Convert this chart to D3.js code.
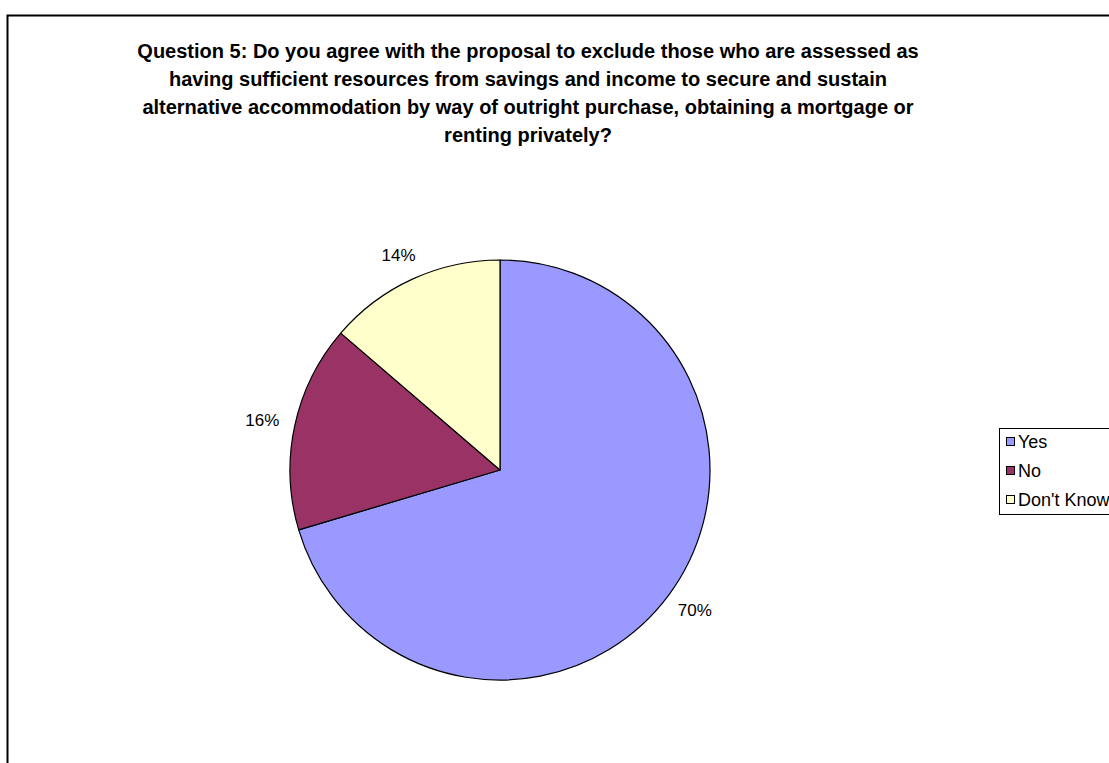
<!DOCTYPE html>
<html>
<head>
<meta charset="utf-8">
<script src="https://cdn.jsdelivr.net/npm/d3@7"></script>
<style>
  html, body { margin: 0; padding: 0; background: #fff; }
  svg { display: block; }
  text { font-family: "Liberation Sans", Arial, sans-serif; }
</style>
</head>
<body>
<svg id="chart" width="1109" height="763"></svg>
<script>
const categories = ["Yes", "No", "Don't Know"];
const values = [70.4, 15.9, 13.7];
const colors = ["#9999FF", "#993366", "#FFFFCC"];
const titleLines = [
  "Question 5: Do you agree with the proposal to exclude those who are assessed as",
  "having sufficient resources from savings and income to secure and sustain",
  "alternative accommodation by way of outright purchase, obtaining a mortgage or",
  "renting privately?"
];

const svg = d3.select("#chart");

// outer border
svg.append("rect")
  .attr("x", 7.5).attr("y", 15.5)
  .attr("width", 1130).attr("height", 800)
  .attr("fill", "#fff").attr("stroke", "#000").attr("stroke-width", 2);

// title
const title = svg.append("text")
  .attr("text-anchor", "middle")
  .attr("font-weight", "bold")
  .attr("font-size", 20)
  .attr("fill", "#000");
titleLines.forEach((l, i) => {
  title.append("tspan").attr("x", 528).attr("y", 58 + i * 28).text(l);
});

// pie
const cx = 500, cy = 470, r = 210;
const total = d3.sum(values);
const pie = d3.pie().sort(null).value(d => d)(values);
const arc = d3.arc().innerRadius(0).outerRadius(r);
const g = svg.append("g").attr("transform", `translate(${cx},${cy})`);
g.selectAll("path").data(pie).enter().append("path")
  .attr("d", arc)
  .attr("fill", (d, i) => colors[i])
  .attr("stroke", "#000").attr("stroke-width", 1.2)
  .attr("stroke-linejoin", "round");

// labels: anchored just outside the rim, box pushed outward along the mid-angle
const labelFont = 17;
g.selectAll("text.lbl").data(pie).enter().append("text")
  .attr("class", "lbl")
  .attr("text-anchor", "middle")
  .attr("dominant-baseline", "central")
  .attr("font-size", labelFont)
  .attr("fill", "#000")
  .text(d => Math.round(d.value / total * 100) + "%")
  .each(function(d) {
    const a = (d.startAngle + d.endAngle) / 2;
    const ux = Math.sin(a), uy = -Math.cos(a);
    const bb = this.getBBox();
    const rr = r + 16;
    const x = ux * rr + ux * bb.width / 2;
    const y = uy * rr + uy * bb.height / 2;
    d3.select(this).attr("transform", `translate(${x},${y})`);
  });

// legend
const lg = svg.append("g").attr("transform", "translate(999,428)");
lg.append("rect").attr("x", 0.5).attr("y", 0.5).attr("width", 140).attr("height", 86)
  .attr("fill", "#fff").attr("stroke", "#000").attr("stroke-width", 1);
const items = lg.selectAll("g.item").data(categories).enter().append("g")
  .attr("class", "item")
  .attr("transform", (d, i) => `translate(0,${14 + i * 29})`);
items.append("rect").attr("x", 7.5).attr("y", -4.5).attr("width", 8).attr("height", 8)
  .attr("fill", (d, i) => colors[i]).attr("stroke", "#000").attr("stroke-width", 1);
items.append("text").attr("x", 19).attr("y", 0)
  .attr("dominant-baseline", "central")
  .attr("font-size", 18).attr("fill", "#000")
  .text(d => d);
</script>
</body>
</html>
